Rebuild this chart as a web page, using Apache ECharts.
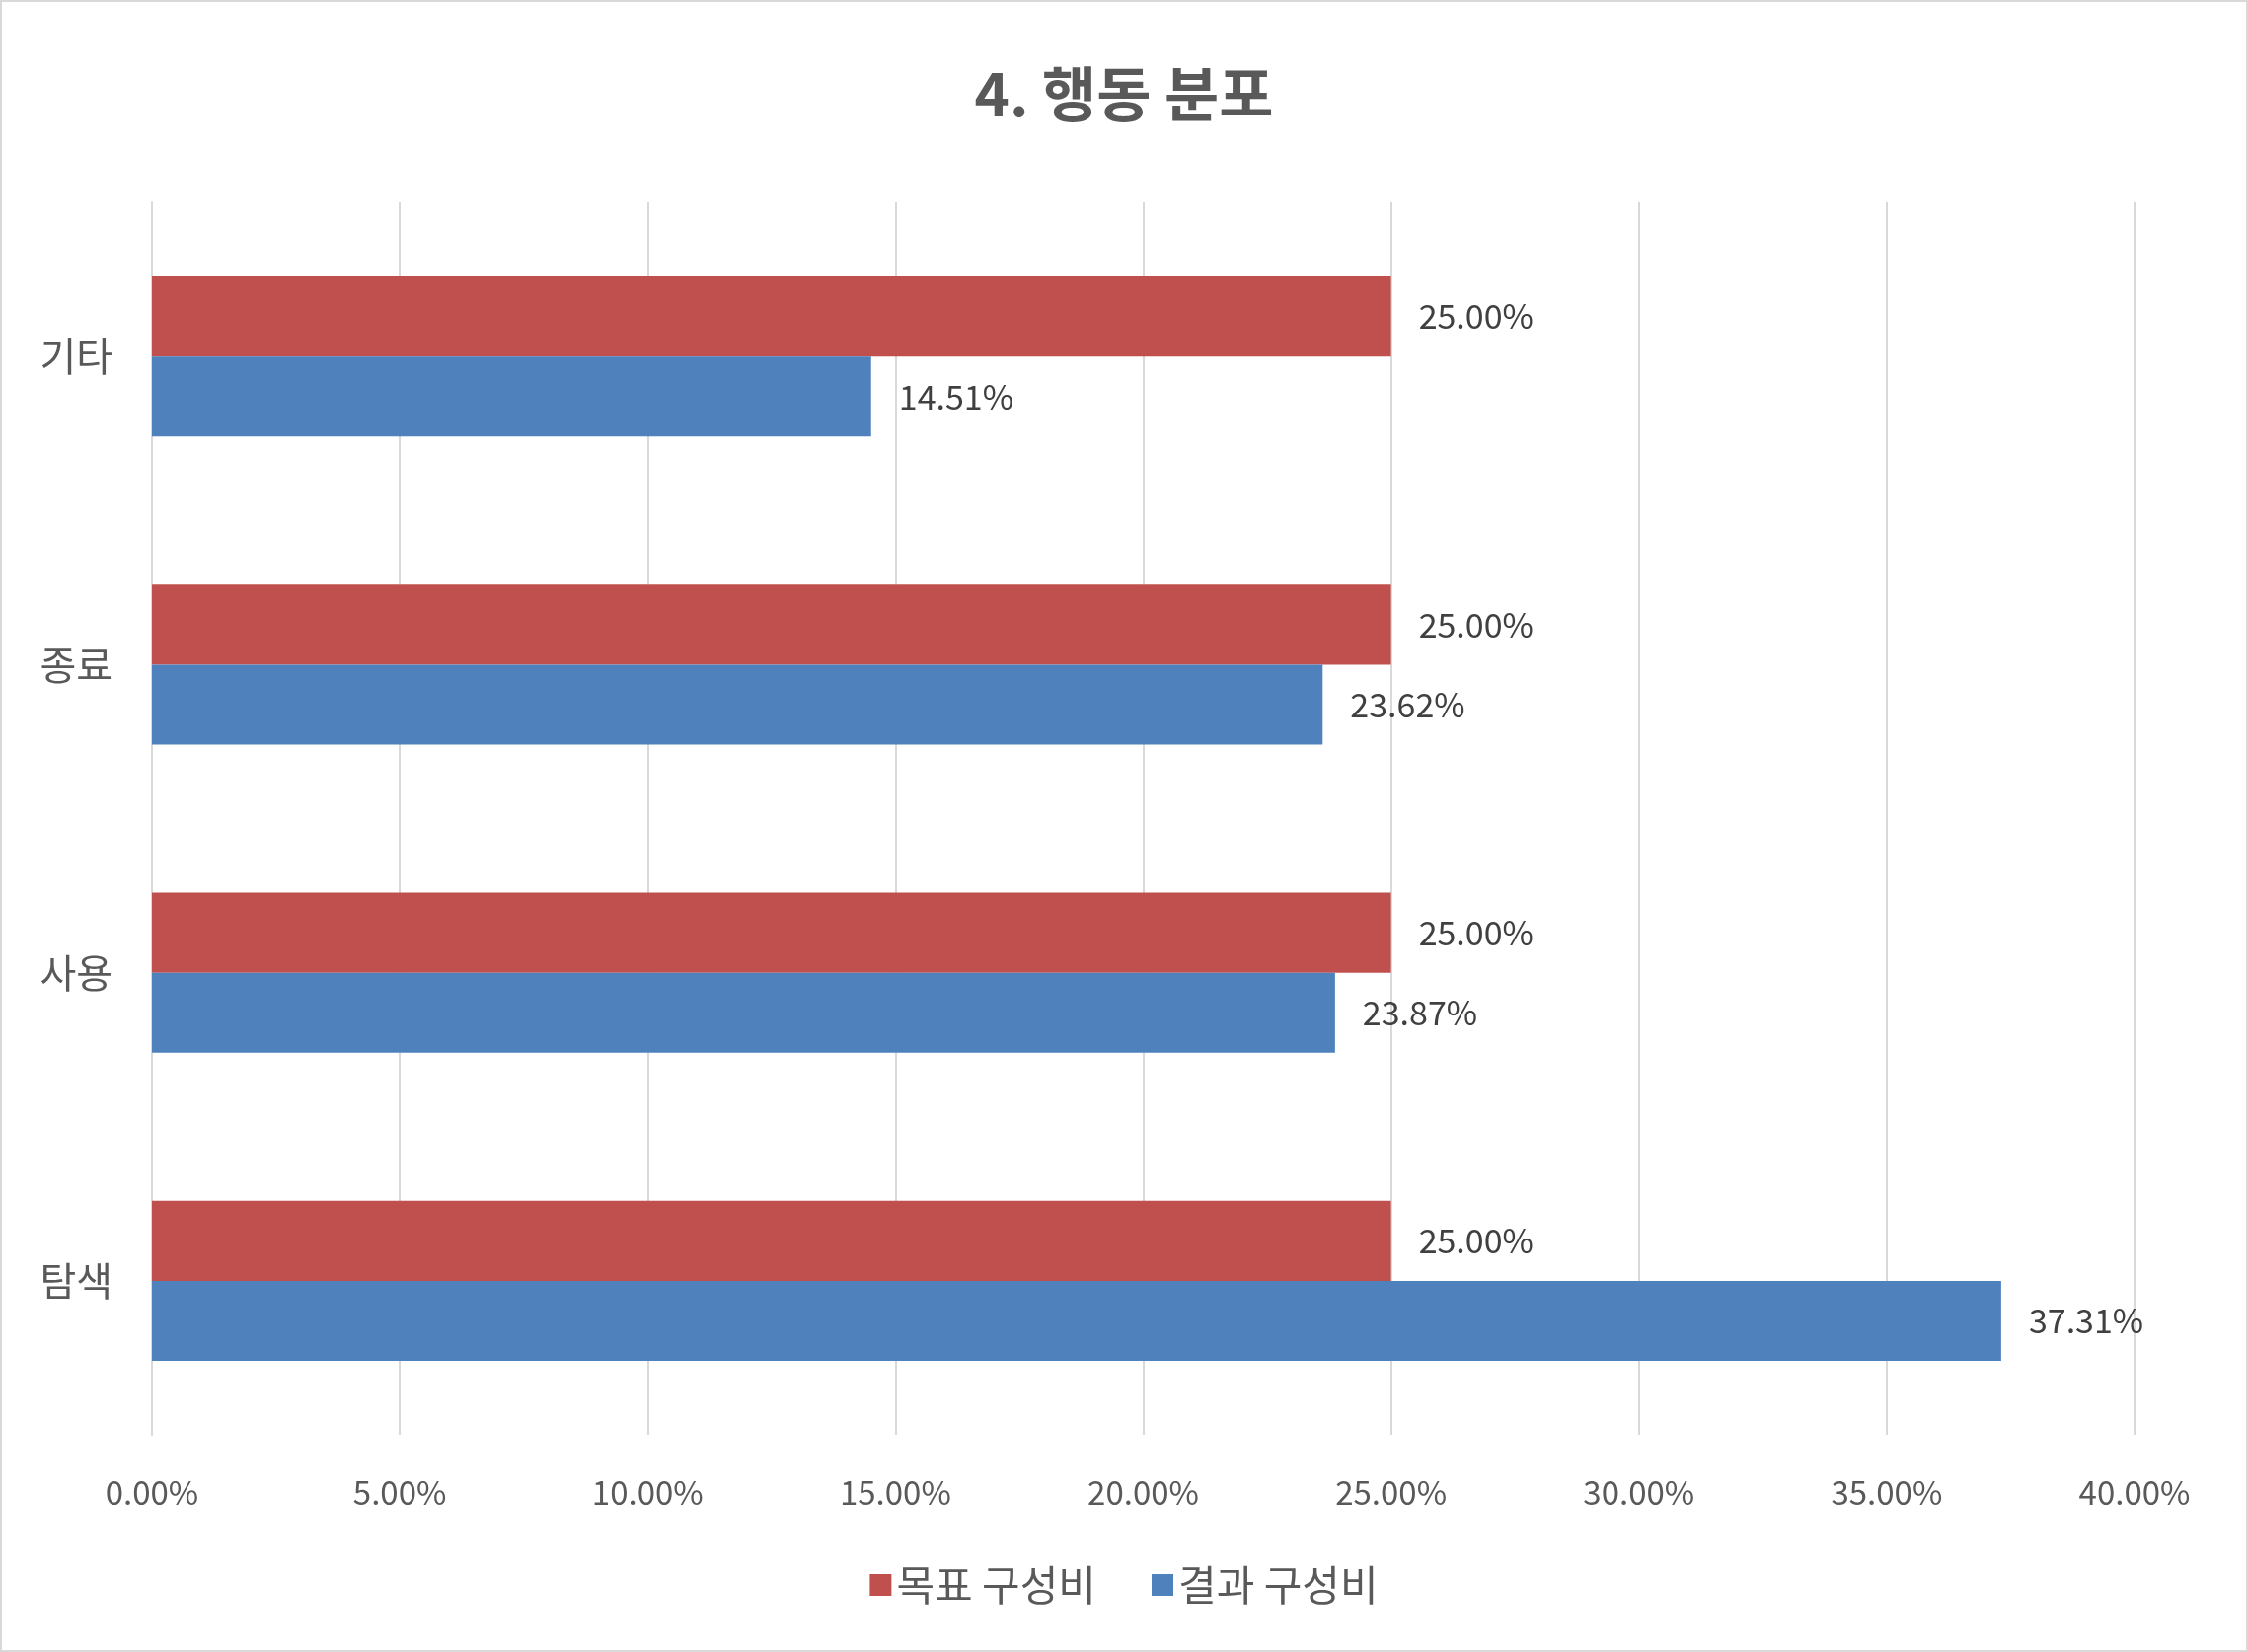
<!DOCTYPE html>
<html><head><meta charset="utf-8">
<script src="https://cdn.jsdelivr.net/npm/echarts@6/dist/echarts.min.js"></script>
<style>html,body{margin:0;padding:0;background:#fff}#c{width:2278px;height:1674px;box-sizing:border-box;border:2px solid #d9d9d9}</style>
</head><body><div id="c"></div>
<script>
const categories = ['탐색','사용','종료','기타'];
const targetShare = [25.00, 25.00, 25.00, 25.00];
const resultShare = [37.31, 23.87, 23.62, 14.51];
const xTicks = {min:0, max:40, interval:5};
const font = "'Noto Sans CJK KR','Noto Sans',sans-serif";
const chart = echarts.init(document.getElementById('c'));
chart.setOption({
  animation:false,
  textStyle:{fontFamily:font},
  title:{text:'4. 행동 분포',left:'center',top:58,textStyle:{fontSize:60,fontWeight:'bold',color:'#595959',fontFamily:font}},
  legend:{data:['목표 구성비','결과 구성비'],bottom:40,itemWidth:22,itemHeight:22,itemGap:56,icon:'rect',
    textStyle:{fontSize:42,color:'#595959',fontFamily:font}},
  grid:{left:152,right:113,top:203,bottom:218},
  xAxis:{type:'value',min:xTicks.min,max:xTicks.max,interval:xTicks.interval,
    axisLabel:{formatter:v=>v.toFixed(2)+'%',fontSize:33,color:'#595959',margin:42},
    splitLine:{lineStyle:{color:'#d9d9d9',width:2}},axisLine:{show:false},axisTick:{show:false}},
  yAxis:{type:'category',data:categories,axisLine:{show:true,lineStyle:{color:'#d9d9d9',width:2}},axisTick:{show:false},
    axisLabel:{fontSize:40,color:'#595959',margin:40}},
  series:[
    {name:'목표 구성비',type:'bar',data:targetShare,barGap:'0%',barCategoryGap:'48%',itemStyle:{color:'#C0504D'},
     label:{show:true,position:'right',distance:28,formatter:p=>p.value.toFixed(2)+'%',fontSize:34,color:'#404040'}},
    {name:'결과 구성비',type:'bar',data:resultShare,barGap:'0%',barCategoryGap:'48%',itemStyle:{color:'#4F81BD'},
     label:{show:true,position:'right',distance:28,formatter:p=>p.value.toFixed(2)+'%',fontSize:34,color:'#404040'}}
  ],
  yAxisInverseFix:null
});
</script></body></html>
